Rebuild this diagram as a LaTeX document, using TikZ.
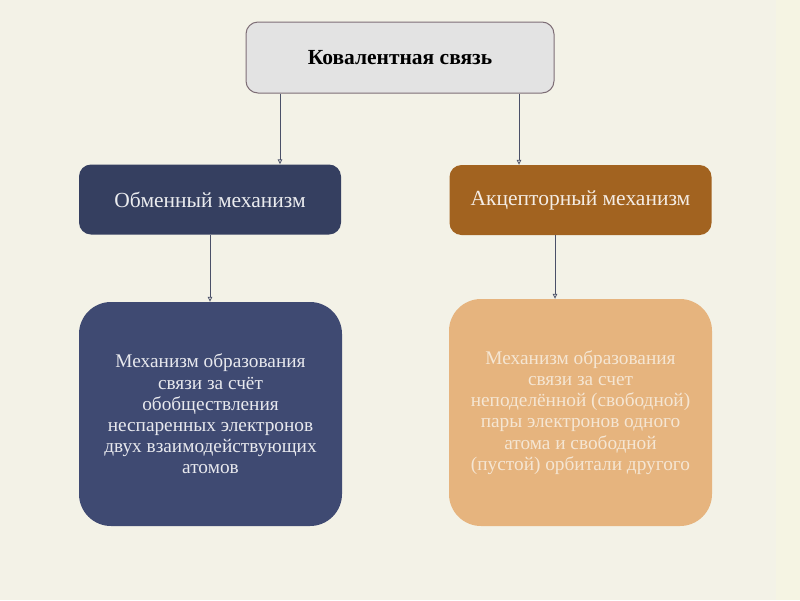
\documentclass[tikz,border=0pt]{standalone}
\usepackage{fontspec}
\setmainfont{Liberation Serif}
\usetikzlibrary{arrows.meta}
\definecolor{bg}{HTML}{F3F2E7}
\definecolor{bgstrip}{HTML}{F5F4E3}
\definecolor{topfill}{HTML}{E3E3E3}
\definecolor{topdraw}{HTML}{7E6E76}
\definecolor{navy}{HTML}{353F60}
\definecolor{navyb}{HTML}{3F4A72}
\definecolor{brown}{HTML}{A26320}
\definecolor{tan}{HTML}{E6B47E}
\definecolor{tantext}{HTML}{F5E6D3}
\definecolor{arrowc}{HTML}{4A5068}
\tikzset{
  x=1pt,y=-1pt,
  boxbase/.style={rounded corners=12pt, minimum width=262pt, minimum height=70pt, inner sep=0pt, align=center},
  topbox/.style={boxbase, minimum width=308pt, minimum height=71pt, fill=topfill, draw=topdraw, line width=1pt, font=\fontsize{21.5}{24}\selectfont\bfseries},
  midleft/.style={boxbase, fill=navy, text=white!90!navy, font=\fontsize{21.5}{24}\selectfont},
  midright/.style={boxbase, fill=brown, text=white!88!brown, font=\fontsize{21.5}{24}\selectfont},
  bigleft/.style={rounded corners=32pt, minimum width=263pt, minimum height=224pt, inner sep=0pt, align=center, fill=navyb, text=white!88!navyb, font=\fontsize{19.3}{21.2}\selectfont},
  bigright/.style={rounded corners=32pt, minimum width=263pt, minimum height=227pt, inner sep=0pt, align=center, fill=tan, text=tantext, font=\fontsize{19.3}{21.2}\selectfont},
  conn/.style={draw=arrowc, line width=0.8pt, -{Triangle[open,length=5pt,width=4.5pt]}}
}
\begin{document}
\begin{tikzpicture}
\fill[bg] (0,0) rectangle (800,600);
\fill[bgstrip] (776,0) rectangle (800,600);
\useasboundingbox (0,0) rectangle (800,600);
\node[topbox] (top) at (400,57.5) {Ковалентная связь};
\node[midleft] (ml) at (210,199.5) {Обменный механизм};
\node[midright] (mr) at (580.5,200) {Акцепторный механизм};
\node[bigleft] (bl) at (210.5,414) {Механизм образования\\связи за счёт\\обобществления\\неспаренных электронов\\двух взаимодействующих\\атомов};
\node[bigright] (br) at (580.5,412.5) {Механизм образования\\связи за счет\\неподелённой (свободной)\\пары электронов одного\\атома и свободной\\(пустой) орбитали другого};
\draw[conn] (top.south -| 280,0) -- (ml.north -| 280,0);
\draw[conn] (top.south -| 519,0) -- (mr.north -| 519,0);
\draw[conn] (ml.south -| 210,0) -- (bl.north -| 210,0);
\draw[conn] (mr.south -| 555,0) -- (br.north -| 555,0);
\end{tikzpicture}
\end{document}
